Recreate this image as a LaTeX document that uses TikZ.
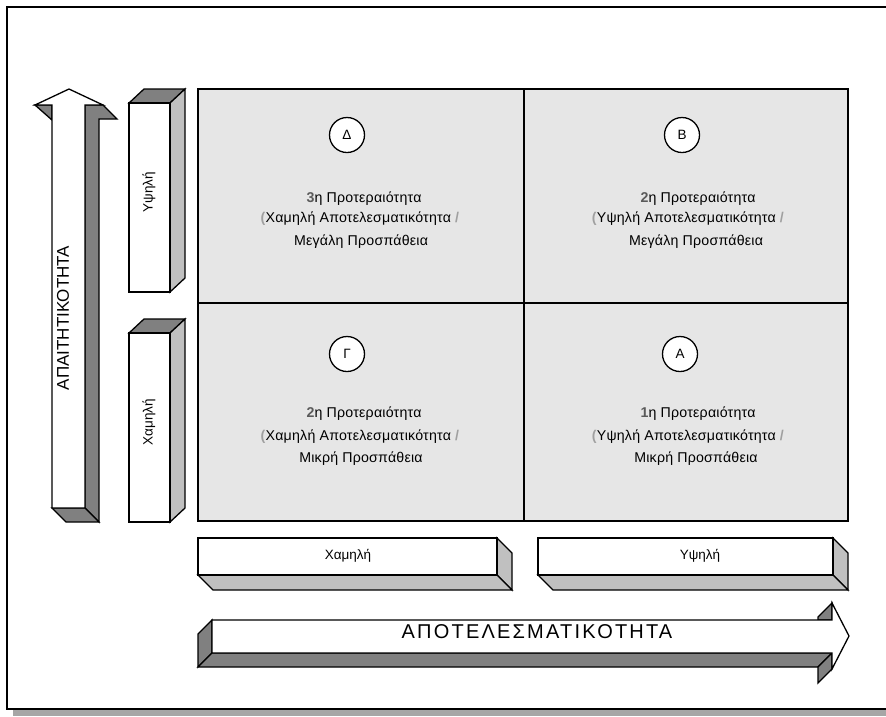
\documentclass[tikz,border=0pt]{standalone}
\usepackage{fontspec}
\setmainfont{Liberation Sans}
\definecolor{cellgray}{RGB}{230,230,230}
\definecolor{darkface}{RGB}{128,128,128}
\definecolor{lightface}{RGB}{192,192,192}
\definecolor{numgray}{RGB}{90,90,90}
\definecolor{markgray}{RGB}{160,160,160}
\newcommand{\numb}[1]{\textcolor{numgray}{\textbf{#1}}}
\newcommand{\markg}[1]{\textcolor{markgray}{\textbf{#1}}}
\begin{document}
\begin{tikzpicture}[x=1pt,y=-1pt,line join=miter,
  outl/.style={draw=black,line width=1.3pt},
  darkf/.style={outl,fill=darkface},
  lightf/.style={outl,fill=lightface},
  frontf/.style={outl,fill=white},
  qtext/.style={font=\fontsize{14.2}{17}\selectfont\addfontfeature{LetterSpace=1.5}},
  circ/.style={circle,draw=black,line width=1.3pt,fill=white,minimum size=35pt,inner sep=0pt,font=\fontsize{13.5}{15}\selectfont},
  lbl/.style={font=\fontsize{13.5}{15}\selectfont,inner sep=0pt}]
\useasboundingbox (0,0) rectangle (886,716);
% outer frame with shadow
\fill[darkface!70] (13,709) rectangle (886,716);
\draw[line width=1.6pt] (886,7) -- (7,7) -- (7,709) -- (886,709);
% grid
\draw[fill=cellgray,line width=1.6pt] (198,89) rectangle (848,521);
\draw[line width=1.2pt] (524,89) -- (524,521);
\draw[line width=1.2pt] (198,303) -- (848,303);
% circles
\node[circ] (cD) at (347,135) {Δ};
\node[circ] (cB) at (682,135) {Β};
\node[circ] (cG) at (347,354) {Γ};
\node[circ] (cA) at (680,354) {Α};
% quadrant texts
\begin{scope}[every node/.style={qtext,inner sep=0pt,anchor=center}]
\node (d1) at (364,199) {\numb{3}η Προτεραιότητα};
\node (d2) at (360,219) {\markg{(}Χαμηλή Αποτελεσματικότητα \markg{/}};
\node (d3) at (361,242) {Μεγάλη Προσπάθεια};
\node (b1) at (698,199) {\numb{2}η Προτεραιότητα};
\node (b2) at (688,219) {\markg{(}Υψηλή Αποτελεσματικότητα \markg{/}};
\node (b3) at (696,242) {Μεγάλη Προσπάθεια};
\node (g1) at (364,414) {\numb{2}η Προτεραιότητα};
\node (g2) at (360,437) {\markg{(}Χαμηλή Αποτελεσματικότητα \markg{/}};
\node (g3) at (361,459) {Μικρή Προσπάθεια};
\node (a1) at (698,414) {\numb{1}η Προτεραιότητα};
\node (a2) at (688,437) {\markg{(}Υψηλή Αποτελεσματικότητα \markg{/}};
\node (a3) at (696,459) {Μικρή Προσπάθεια};
\end{scope}
% left label boxes
\draw[darkf] (129,103) -- (144,89) -- (185,89) -- (170,103) -- cycle;
\draw[lightf] (170,103) -- (185,89) -- (185,278) -- (170,292) -- cycle;
\draw[frontf] (129,103) rectangle (170,292);
\node[lbl,rotate=90] (hi) at (149,192) {Υψηλή};
\draw[darkf] (129,333) -- (144,319) -- (185,319) -- (170,333) -- cycle;
\draw[lightf] (170,333) -- (185,319) -- (185,508) -- (170,522) -- cycle;
\draw[frontf] (129,333) rectangle (170,522);
\node[lbl,rotate=90] (lo) at (149,422) {Χαμηλή};
% bottom label boxes
\draw[lightf] (497,538) -- (512,553) -- (512,590) -- (497,575) -- cycle;
\draw[lightf] (198,575) -- (497,575) -- (512,590) -- (213,590) -- cycle;
\draw[frontf] (198,538) rectangle (497,575);
\node[lbl] (bl) at (348,556) {Χαμηλή};
\draw[lightf] (833,538) -- (848,553) -- (848,590) -- (833,575) -- cycle;
\draw[lightf] (538,575) -- (833,575) -- (848,590) -- (553,590) -- cycle;
\draw[frontf] (538,538) rectangle (833,575);
\node[lbl] (br) at (700,556) {Υψηλή};
% vertical arrow
\draw[darkf] (85,105) -- (103,105) -- (117,119) -- (99,119) -- (99,522) -- (85,508) -- cycle;
\draw[darkf] (35,105) -- (52,105) -- (52,120) -- cycle;
\draw[darkf] (52,508) -- (85,508) -- (99,522) -- (66,522) -- cycle;
\draw[frontf] (52,508) -- (52,105) -- (35,105) -- (69,89) -- (103,105) -- (85,105) -- (85,508) -- cycle;
\node[rotate=90,font=\fontsize{17}{19}\selectfont,inner sep=0pt] (va) at (63,318) {ΑΠΑΙΤΗΤΙΚΟΤΗΤΑ};
% horizontal arrow
\draw[darkf] (212,620) -- (198,634) -- (198,667) -- (212,653) -- cycle;
\draw[darkf] (212,653) -- (832,653) -- (818,667) -- (198,667) -- cycle;
\draw[darkf] (832,653) -- (832,669) -- (818,683) -- (818,667) -- cycle;
\draw[darkf] (832,603) -- (818,617) -- (818,620) -- (832,620) -- cycle;
\draw[frontf] (212,620) -- (832,620) -- (832,603) -- (849,636) -- (832,669) -- (832,653) -- (212,653) -- cycle;
\node[font=\fontsize{20}{22}\selectfont\addfontfeature{LetterSpace=11},inner sep=0pt] (ha) at (537,632) {ΑΠΟΤΕΛΕΣΜΑΤΙΚΟΤΗΤΑ};
\end{tikzpicture}
\end{document}
